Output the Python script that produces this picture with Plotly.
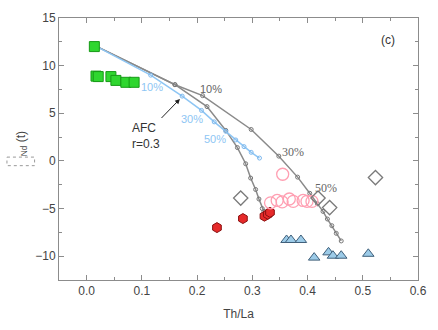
import plotly.graph_objects as go

# AFC curves
gray1_x = [0.015, 0.16, 0.21, 0.298, 0.348, 0.382, 0.404, 0.418, 0.428, 0.436, 0.444, 0.452, 0.461]
gray1_y = [12.1, 8.0, 6.85, 3.3, 0.5, -1.7, -3.4, -4.5, -5.3, -6.1, -6.8, -7.6, -8.4]
gray2_x = [0.015, 0.16, 0.218, 0.252, 0.273, 0.288, 0.297, 0.306, 0.312, 0.318, 0.321]
gray2_y = [12.1, 8.0, 5.7, 3.2, 1.4, -0.3, -1.8, -3.0, -4.0, -5.0, -5.3]
blue_x = [0.015, 0.116, 0.173, 0.208, 0.231, 0.252, 0.27, 0.285, 0.298, 0.313]
blue_y = [12.1, 9.0, 6.8, 5.3, 4.1, 3.1, 2.2, 1.5, 0.9, 0.3]

# samples
green_x = [0.014, 0.017, 0.021, 0.044, 0.053, 0.071, 0.086]
green_y = [12.0, 8.9, 8.85, 8.85, 8.45, 8.25, 8.25]
red_x = [0.236, 0.283, 0.322, 0.328, 0.332]
red_y = [-7.0, -6.05, -5.8, -5.6, -5.4]
pink_x = [0.355, 0.333, 0.345, 0.354, 0.367, 0.374, 0.392, 0.399, 0.408]
pink_y = [-1.4, -4.4, -4.15, -4.3, -4.0, -4.25, -4.15, -4.25, -4.25]
diam_x = [0.279, 0.419, 0.440, 0.523]
diam_y = [-3.9, -3.9, -4.9, -1.75]
tri_x = [0.362, 0.370, 0.388, 0.412, 0.438, 0.446, 0.461, 0.510]
tri_y = [-8.3, -8.3, -8.3, -10.15, -9.6, -9.95, -9.95, -9.75]

x_ticks = [0.0, 0.1, 0.2, 0.3, 0.4, 0.5, 0.6]
y_ticks = [-10, -5, 0, 5, 10, 15]

fig = go.Figure()
fig.add_trace(go.Scatter(x=gray1_x, y=gray1_y, mode="lines+markers",
                         line=dict(color="#8a8a8a", width=1.5),
                         marker=dict(symbol="circle-open", size=4, color="#777777", line=dict(width=1))))
fig.add_trace(go.Scatter(x=gray2_x, y=gray2_y, mode="lines+markers",
                         line=dict(color="#8a8a8a", width=1.5),
                         marker=dict(symbol="circle-open", size=4, color="#777777", line=dict(width=1))))
fig.add_trace(go.Scatter(x=blue_x, y=blue_y, mode="lines+markers",
                         line=dict(color="#8ec6f4", width=1.5),
                         marker=dict(symbol="circle-open", size=4, color="#7db8ee", line=dict(width=1))))
fig.add_trace(go.Scatter(x=green_x, y=green_y, mode="markers",
                         marker=dict(symbol="square", size=10, color="#2fd62f", line=dict(color="#169a16", width=1))))
fig.add_trace(go.Scatter(x=red_x, y=red_y, mode="markers",
                         marker=dict(symbol="hexagon", size=10, color="#e62a2a", line=dict(color="#8a1010", width=1))))
fig.add_trace(go.Scatter(x=pink_x, y=pink_y, mode="markers",
                         marker=dict(symbol="circle-open", size=12, color="#ff9fb2", line=dict(width=1.3))))
fig.add_trace(go.Scatter(x=diam_x, y=diam_y, mode="markers",
                         marker=dict(symbol="diamond-open", size=11, color="#7a7a7a", line=dict(width=1.3))))
fig.add_trace(go.Scatter(x=tri_x, y=tri_y, mode="markers",
                         marker=dict(symbol="triangle-up", size=10, color="#9ccbe8", line=dict(color="#3f5f7a", width=1))))

ann = []
def txt(x, y, t, color="#666666", size=11, family="Liberation Sans"):
    ann.append(dict(x=x, y=y, xref="x", yref="y", text=t, showarrow=False,
                    font=dict(color=color, size=size, family=family)))

txt(0.225, 7.6, "10%")
txt(0.374, 0.9, "30%", family="Liberation Serif", size=12)
txt(0.434, -2.8, "50%", family="Liberation Serif", size=12)
txt(0.119, 7.8, "10%", color="#8ec6f4")
txt(0.19, 4.4, "30%", color="#8ec6f4")
txt(0.232, 2.3, "50%", color="#8ec6f4")
txt(0.546, 12.7, "(c)", color="#333333", size=12)
ann.append(dict(x=0.107, y=2.6, xref="x", yref="y", text="AFC<br>r=0.3", showarrow=False,
                align="left", font=dict(color="#333333", size=12, family="Liberation Sans")))
ann.append(dict(x=0.169, y=6.5, xref="x", yref="y", ax=0.133, ay=4.35, axref="x", ayref="y",
                text="", showarrow=True, arrowhead=2, arrowsize=1, arrowwidth=1, arrowcolor="#222222"))
ann.append(dict(x=-0.132, y=1.8, xref="paper", yref="y", text="<sub>Nd</sub> (t)", textangle=-90,
                showarrow=False, font=dict(color="#444444", size=12, family="Liberation Sans")))

axis_common = dict(showline=True, linecolor="#8c8c8c", linewidth=1, mirror="ticks",
                   ticks="inside", ticklen=5, tickcolor="#8c8c8c", showgrid=False, zeroline=False,
                   tickfont=dict(size=12, color="#444444", family="Liberation Sans"))

fig.update_layout(
    width=438, height=330,
    margin=dict(l=59, r=15, t=11, b=47),
    paper_bgcolor="white", plot_bgcolor="white",
    showlegend=False,
    annotations=ann,
    shapes=[dict(type="rect", xref="paper", yref="y", x0=-0.145, x1=-0.068, y0=0.4, y1=-0.5,
                 line=dict(color="#999999", width=1, dash="dot"))],
    xaxis=dict(range=[-0.05, 0.6], tickvals=x_ticks, ticktext=[f"{v:.1f}" for v in x_ticks],
               minor=dict(dtick=0.05, tick0=0, ticks="inside", ticklen=3, tickcolor="#8c8c8c"),
               title=dict(text="Th/La", font=dict(size=12, color="#444444", family="Liberation Sans"), standoff=12),
               **axis_common),
    yaxis=dict(range=[-12.5, 15], tickvals=y_ticks,
               minor=dict(dtick=2.5, tick0=0, ticks="inside", ticklen=3, tickcolor="#8c8c8c"),
               **axis_common),
)

fig.write_html("out.html")
